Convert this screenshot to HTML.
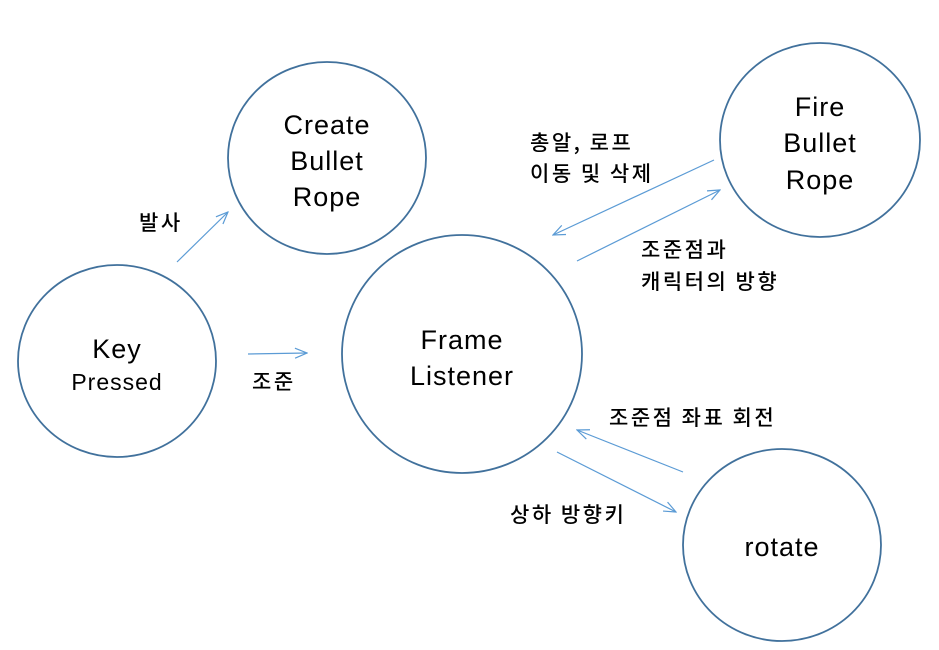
<!DOCTYPE html>
<html><head><meta charset="utf-8"><style>
html,body{margin:0;padding:0;background:#fff;}
svg{display:block;}
text{font-family:"Liberation Sans","Noto Sans CJK KR",sans-serif;fill:#000;}
.k{font-family:"Noto Sans CJK KR","Liberation Sans",sans-serif;font-weight:500;}
</style></head><body>
<svg width="939" height="650" viewBox="0 0 939 650" xmlns="http://www.w3.org/2000/svg">
<defs>
<marker id="a" markerWidth="14" markerHeight="12" refX="13" refY="6" orient="auto" markerUnits="userSpaceOnUse">
<path d="M1,1 L13,6 L1,11" fill="none" stroke="#5b9bd5" stroke-width="1.2"/>
</marker>
</defs>
<g fill="none" stroke="#41719c" stroke-width="1.8">
<ellipse cx="117" cy="361" rx="99" ry="96"/>
<ellipse cx="327" cy="158" rx="99" ry="96"/>
<ellipse cx="462" cy="354" rx="120" ry="119"/>
<ellipse cx="820" cy="140" rx="100" ry="97"/>
<ellipse cx="782" cy="545" rx="99" ry="96"/>
</g>
<g stroke="#5b9bd5" stroke-width="1.2" marker-end="url(#a)">
<line x1="177" y1="262" x2="228" y2="212"/>
<line x1="248" y1="354" x2="307" y2="353"/>
<line x1="714" y1="160" x2="553" y2="235"/>
<line x1="577" y1="261" x2="720" y2="190"/>
<line x1="683" y1="472" x2="577" y2="430"/>
<line x1="557" y1="452" x2="676" y2="512"/>
</g>
<g font-size="27" text-anchor="middle" letter-spacing="1">
<text x="117" y="358">Key</text>
<text x="117" y="390" font-size="23">Pressed</text>
<text x="327" y="134">Create</text>
<text x="327" y="170">Bullet</text>
<text x="327" y="206">Rope</text>
<text x="462" y="349">Frame</text>
<text x="462" y="385">Listener</text>
<text x="820" y="116">Fire</text>
<text x="820" y="152">Bullet</text>
<text x="820" y="189">Rope</text>
<text x="782" y="556">rotate</text>
</g>
<g font-size="21" class="k" letter-spacing="2.5">
<text x="139" y="230" class="k">발사</text>
<text x="252" y="389" class="k">조준</text>
<text x="530" y="150" class="k">총알, 로프</text>
<text x="530" y="181" class="k">이동 및 삭제</text>
<text x="641" y="257" class="k">조준점과</text>
<text x="641" y="289" class="k">캐릭터의 방향</text>
<text x="609" y="425" class="k">조준점 좌표 회전</text>
<text x="510" y="522" class="k">상하 방향키</text>
</g>
</svg>
</body></html>
